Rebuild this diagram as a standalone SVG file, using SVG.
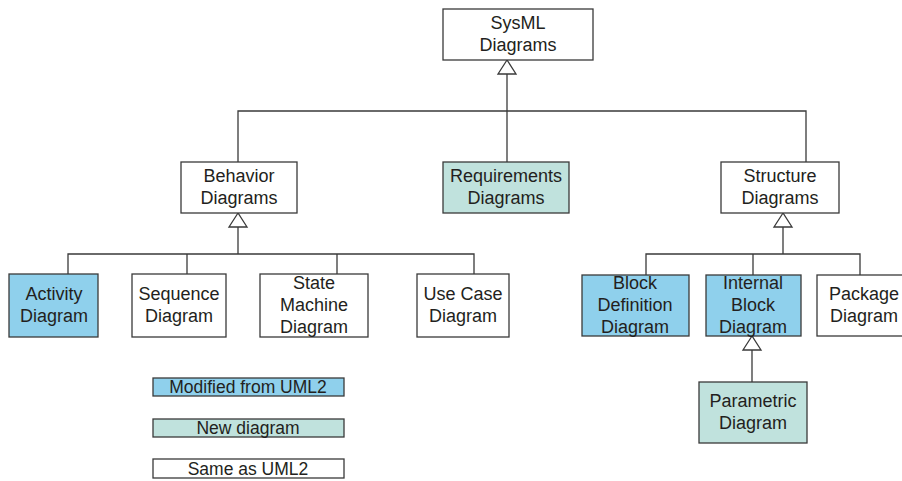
<svg xmlns="http://www.w3.org/2000/svg" width="902" height="481" viewBox="0 0 902 481">
  <defs>
    <style>
      .box { stroke: #3a3a3a; stroke-width: 1.3; }
      .same { fill: #ffffff; }
      .mod { fill: #8fd0ec; }
      .new { fill: #c0e2dd; }
      .lbl { font-family: "Liberation Sans", Arial, sans-serif; font-size: 18px; fill: #231f20; text-anchor: middle; }
      .leg { font-family: "Liberation Sans", Arial, sans-serif; font-size: 17.5px; fill: #231f20; text-anchor: middle; }
      .wire { fill: none; stroke: #3a3a3a; stroke-width: 1.3; }
      .tri { fill: #ffffff; stroke: #3a3a3a; stroke-width: 1.3; }
    </style>
  </defs>

  <!-- generalization connectors -->
  <g id="connectors">
    <polyline class="wire" points="238,162 238,111 806,111 806,162"/>
    <line class="wire" x1="507" y1="74" x2="507" y2="162"/>
    <polygon class="tri" points="507,60 498,74 516,74"/>

    <polyline class="wire" points="68,274 68,254 474,254 474,274"/>
    <line class="wire" x1="238" y1="227" x2="238" y2="254"/>
    <line class="wire" x1="187" y1="254" x2="187" y2="274"/>
    <line class="wire" x1="337" y1="254" x2="337" y2="274"/>
    <polygon class="tri" points="238,213 229,227 247,227"/>

    <polyline class="wire" points="646,275 646,254 860,254 860,275"/>
    <line class="wire" x1="783" y1="227" x2="783" y2="254"/>
    <line class="wire" x1="753" y1="254" x2="753" y2="275"/>
    <polygon class="tri" points="783,213 774,227 792,227"/>

    <line class="wire" x1="752" y1="350" x2="752" y2="382"/>
    <polygon class="tri" points="752,336 743,350 761,350"/>
  </g>

  <g id="sysml">
    <rect class="box same" x="443" y="9" width="150" height="51"/>
    <text class="lbl" x="518" y="29">SysML</text>
    <text class="lbl" x="518" y="51">Diagrams</text>
  </g>

  <g id="behavior">
    <rect class="box same" x="181" y="162" width="116" height="51"/>
    <text class="lbl" x="239" y="182">Behavior</text>
    <text class="lbl" x="239" y="204">Diagrams</text>
  </g>

  <g id="requirements">
    <rect class="box new" x="443" y="162" width="126" height="51"/>
    <text class="lbl" x="506" y="182">Requirements</text>
    <text class="lbl" x="506" y="204">Diagrams</text>
  </g>

  <g id="structure">
    <rect class="box same" x="721" y="162" width="118" height="51"/>
    <text class="lbl" x="780" y="182">Structure</text>
    <text class="lbl" x="780" y="204">Diagrams</text>
  </g>

  <g id="activity">
    <rect class="box mod" x="9" y="274" width="89" height="63"/>
    <text class="lbl" x="54" y="300">Activity</text>
    <text class="lbl" x="54" y="322">Diagram</text>
  </g>

  <g id="sequence">
    <rect class="box same" x="132" y="274" width="94" height="63"/>
    <text class="lbl" x="179" y="300">Sequence</text>
    <text class="lbl" x="179" y="322">Diagram</text>
  </g>

  <g id="state-machine">
    <rect class="box same" x="260" y="274" width="108" height="63"/>
    <text class="lbl" x="314" y="289">State</text>
    <text class="lbl" x="314" y="311">Machine</text>
    <text class="lbl" x="314" y="333">Diagram</text>
  </g>

  <g id="use-case">
    <rect class="box same" x="417" y="274" width="92" height="63"/>
    <text class="lbl" x="463" y="300">Use Case</text>
    <text class="lbl" x="463" y="322">Diagram</text>
  </g>

  <g id="block-definition">
    <rect class="box mod" x="582" y="275" width="107" height="61"/>
    <text class="lbl" x="635" y="289">Block</text>
    <text class="lbl" x="635" y="311">Definition</text>
    <text class="lbl" x="635" y="333">Diagram</text>
  </g>

  <g id="internal-block">
    <rect class="box mod" x="706" y="275" width="95" height="61"/>
    <text class="lbl" x="753" y="289">Internal</text>
    <text class="lbl" x="753" y="311">Block</text>
    <text class="lbl" x="753" y="333">Diagram</text>
  </g>

  <g id="package">
    <rect class="box same" x="817" y="275" width="95" height="61"/>
    <text class="lbl" x="864" y="300">Package</text>
    <text class="lbl" x="864" y="322">Diagram</text>
  </g>

  <g id="parametric">
    <rect class="box new" x="699" y="382" width="108" height="61"/>
    <text class="lbl" x="753" y="407">Parametric</text>
    <text class="lbl" x="753" y="429">Diagram</text>
  </g>

  <!-- legend -->
  <g id="legend-modified">
    <rect class="box mod" x="153" y="378" width="191" height="18"/>
    <text class="leg" x="248" y="393">Modified from UML2</text>
  </g>
  <g id="legend-new">
    <rect class="box new" x="153" y="419" width="191" height="18"/>
    <text class="leg" x="248" y="434">New diagram</text>
  </g>
  <g id="legend-same">
    <rect class="box same" x="153" y="459" width="191" height="19"/>
    <text class="leg" x="248" y="475">Same as UML2</text>
  </g>
</svg>
